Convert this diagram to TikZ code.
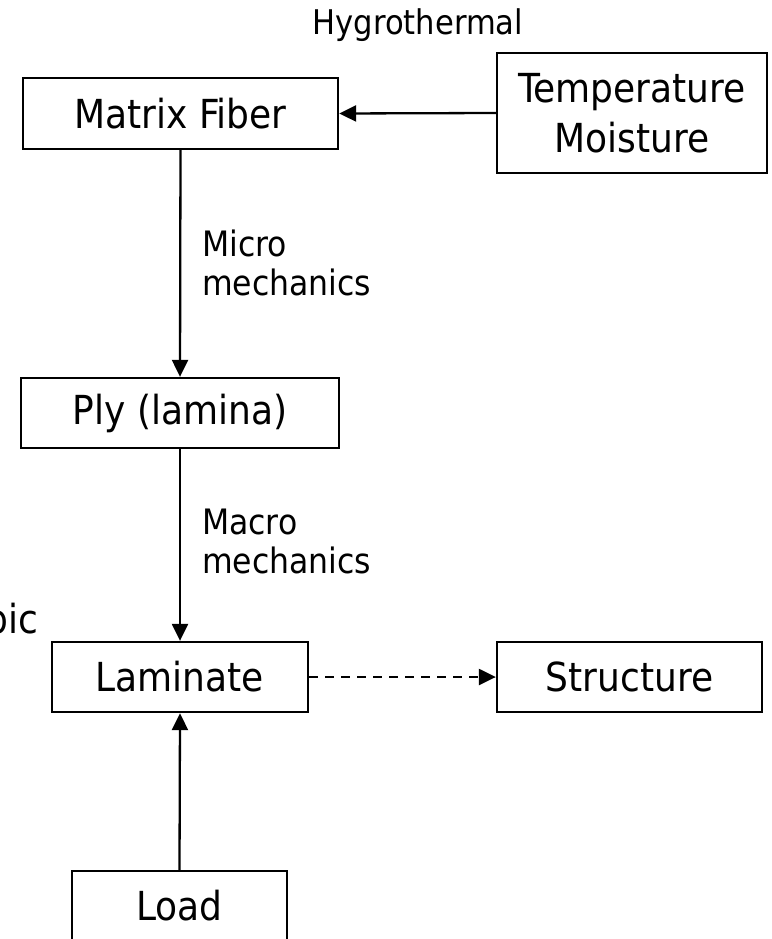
\documentclass[tikz,border=0pt]{standalone}
\usepackage{fontspec}
\setmainfont{DejaVu Sans Condensed}
\usetikzlibrary{arrows.meta}
\tikzset{
  box/.style={draw, line width=2.3pt, rectangle, inner sep=0pt, align=center, font=\fontsize{40}{50}\selectfont},
  lbl/.style={inner sep=0pt, align=left, font=\fontsize{35}{39}\selectfont},
  arr/.style={line width=2.3pt, -{Triangle[length=17pt,width=16pt]}},
}
\begin{document}
\begin{tikzpicture}[x=1pt,y=-1pt]
\useasboundingbox (0,0) rectangle (771,939);
\node[box, minimum width=315pt, minimum height=71pt] (mf) at (180.5,113.5) {Matrix Fiber};
\node[box, minimum width=270pt, minimum height=120pt] (tm) at (632,113) {Temperature\\Moisture};
\node[box, minimum width=318pt, minimum height=70pt] (ply) at (180,413) {Ply (lamina)};
\node[box, minimum width=256pt, minimum height=70pt] (lam) at (180,677) {Laminate};
\node[box, minimum width=265pt, minimum height=70pt] (str) at (629.5,677) {Structure};
\node[box, minimum width=215pt, minimum height=70pt] (load) at (179.5,906) {Load};
\node[lbl, anchor=center, font=\fontsize{34}{39}\selectfont] (hyg) at (418,25) {Hygrothermal};
\node[lbl, anchor=north west] (micro) at (202,230) {Micro\\mechanics};
\node[lbl, anchor=north west] (macro) at (202,509) {Macro\\mechanics};
\node[inner sep=0pt, anchor=base east, font=\fontsize{40}{50}\selectfont] (pic) at (38,633) {pic};
\draw[arr] (tm.west) -- (mf.east);
\draw[arr] (mf.south) -- (ply.north);
\draw[arr] (ply.south) -- (lam.north);
\draw[arr] (load.north) -- (lam.south);
\draw[arr, dash pattern=on 9pt off 7pt] (lam.east) -- (str.west);
\end{tikzpicture}
\end{document}
